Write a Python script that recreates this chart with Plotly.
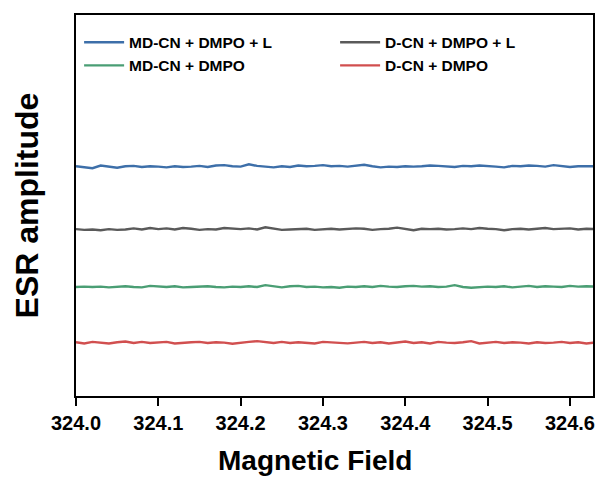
import plotly.graph_objects as go

field = [324.00, 324.01, 324.02, 324.03, 324.04, 324.05, 324.06, 324.07, 324.08, 324.09,
         324.10, 324.11, 324.12, 324.13, 324.14, 324.15, 324.16, 324.17, 324.18, 324.19,
         324.20, 324.21, 324.22, 324.23, 324.24, 324.25, 324.26, 324.27, 324.28, 324.29,
         324.30, 324.31, 324.32, 324.33, 324.34, 324.35, 324.36, 324.37, 324.38, 324.39,
         324.40, 324.41, 324.42, 324.43, 324.44, 324.45, 324.46, 324.47, 324.48, 324.49,
         324.50, 324.51, 324.52, 324.53, 324.54, 324.55, 324.56, 324.57, 324.58, 324.59,
         324.60, 324.61, 324.62, 324.63]

md_dmpo_l = [60.3, 60.1, 59.8, 60.5, 60.2, 59.9, 60.3, 60.4, 60.1, 60.3, 60.2, 60.0, 60.3, 60.1, 60.2, 60.4,
             60.1, 60.5, 60.6, 60.3, 60.2, 60.8, 60.4, 60.2, 60.0, 60.3, 60.1, 60.5, 60.3, 60.4, 60.6, 60.3,
             60.4, 60.2, 60.5, 60.7, 60.3, 60.0, 60.2, 60.1, 60.3, 60.2, 60.3, 60.5, 60.4, 60.2, 60.1, 60.4,
             60.3, 60.5, 60.4, 60.2, 60.0, 60.4, 60.3, 60.5, 60.4, 60.2, 60.6, 60.3, 60.1, 60.3, 60.4, 60.3]
d_dmpo_l = [43.8, 43.6, 43.7, 43.5, 43.8, 43.6, 43.7, 44.0, 43.7, 44.1, 43.8, 44.0, 43.7, 44.1, 43.9, 43.6,
            43.8, 43.7, 44.1, 43.9, 43.8, 44.0, 43.7, 44.3, 43.9, 43.6, 43.7, 43.8, 43.9, 43.6, 43.8, 43.9,
            43.7, 43.8, 44.0, 43.9, 43.6, 43.8, 43.9, 44.2, 43.8, 43.5, 43.9, 43.8, 43.9, 43.7, 43.8, 44.0,
            43.8, 44.1, 43.9, 43.8, 43.5, 43.8, 43.9, 43.7, 43.9, 44.1, 43.8, 43.9, 44.0, 43.7, 43.9, 43.8]
md_dmpo = [28.6, 28.7, 28.6, 28.7, 28.5, 28.6, 28.8, 28.6, 28.5, 28.9, 28.7, 28.6, 28.8, 28.5, 28.6, 28.7,
           28.8, 28.6, 28.5, 28.7, 28.6, 28.8, 28.6, 29.1, 28.7, 28.5, 28.8, 28.9, 28.6, 28.7, 28.5, 28.6,
           28.4, 28.7, 28.6, 28.8, 28.6, 28.9, 28.7, 28.6, 28.8, 28.9, 28.7, 28.8, 28.6, 28.7, 29.1, 28.6,
           28.4, 28.6, 28.7, 28.6, 28.8, 28.5, 28.7, 28.9, 28.6, 28.8, 28.7, 28.6, 28.9, 28.7, 28.8, 28.7]
d_dmpo = [14.1, 13.8, 14.2, 14.0, 13.8, 14.1, 14.3, 13.9, 14.2, 13.9, 14.0, 14.2, 13.8, 14.0, 14.1, 14.2,
          13.9, 14.1, 14.0, 13.7, 14.0, 14.2, 14.4, 14.1, 13.9, 14.2, 13.9, 14.1, 14.0, 13.8, 14.2, 14.1,
          13.9, 13.8, 14.0, 14.2, 13.9, 14.1, 13.8, 14.0, 14.3, 13.9, 14.1, 13.8, 14.2, 14.0, 13.9, 14.1,
          14.4, 13.8, 14.0, 14.2, 13.9, 14.1, 14.0, 13.8, 14.1, 13.9, 14.0, 14.2, 13.9, 14.1, 13.8, 14.0]

series_names = ["MD-CN + DMPO + L", "D-CN + DMPO + L", "MD-CN + DMPO", "D-CN + DMPO"]
series_values = [md_dmpo_l, d_dmpo_l, md_dmpo, d_dmpo]
series_colors = ["#3d6fa9", "#5a5a5a", "#4a9e74", "#d14f4f"]

tick_vals = [324.0, 324.1, 324.2, 324.3, 324.4, 324.5, 324.6]
tick_text = ["324.0", "324.1", "324.2", "324.3", "324.4", "324.5", "324.6"]

FONT = "Liberation Sans, Arial, sans-serif"

fig = go.Figure()
for name, vals, col in zip(series_names, series_values, series_colors):
    fig.add_trace(go.Scatter(x=field, y=vals, mode="lines", name=name,
                             line=dict(color=col, width=2.4)))

fig.update_layout(
    width=603, height=481,
    margin=dict(l=76, r=8, t=15, b=85),
    paper_bgcolor="white", plot_bgcolor="white",
    font=dict(family=FONT, color="black"),
    showlegend=True,
    legend=dict(orientation="h", x=0.006, y=0.972, xanchor="left", yanchor="top",
                entrywidth=201, entrywidthmode="pixels",
                font=dict(family=FONT, size=15.5, color="black", weight="bold"),
                bgcolor="rgba(0,0,0,0)", tracegroupgap=0, itemwidth=40),
    xaxis=dict(range=[324.0, 324.628], tickvals=tick_vals, ticktext=tick_text,
               ticks="outside", ticklen=8, tickwidth=2, tickcolor="black",
               showline=True, linecolor="black", linewidth=2, mirror=True,
               showgrid=False, zeroline=False,
               tickfont=dict(family=FONT, size=20, color="black", weight="bold")),
    yaxis=dict(range=[0, 100], showticklabels=False, ticks="",
               showline=True, linecolor="black", linewidth=2, mirror=True,
               showgrid=False, zeroline=False,
               title=dict(text="ESR amplitude", standoff=26,
                          font=dict(family=FONT, size=32, color="black", weight="bold"))),
    annotations=[dict(text="Magnetic Field", xref="paper", yref="paper",
                      x=0.463, y=-0.17, xanchor="center", yanchor="middle",
                      showarrow=False,
                      font=dict(family=FONT, size=28, color="black", weight="bold"))],
)

fig.write_html("out.html")
